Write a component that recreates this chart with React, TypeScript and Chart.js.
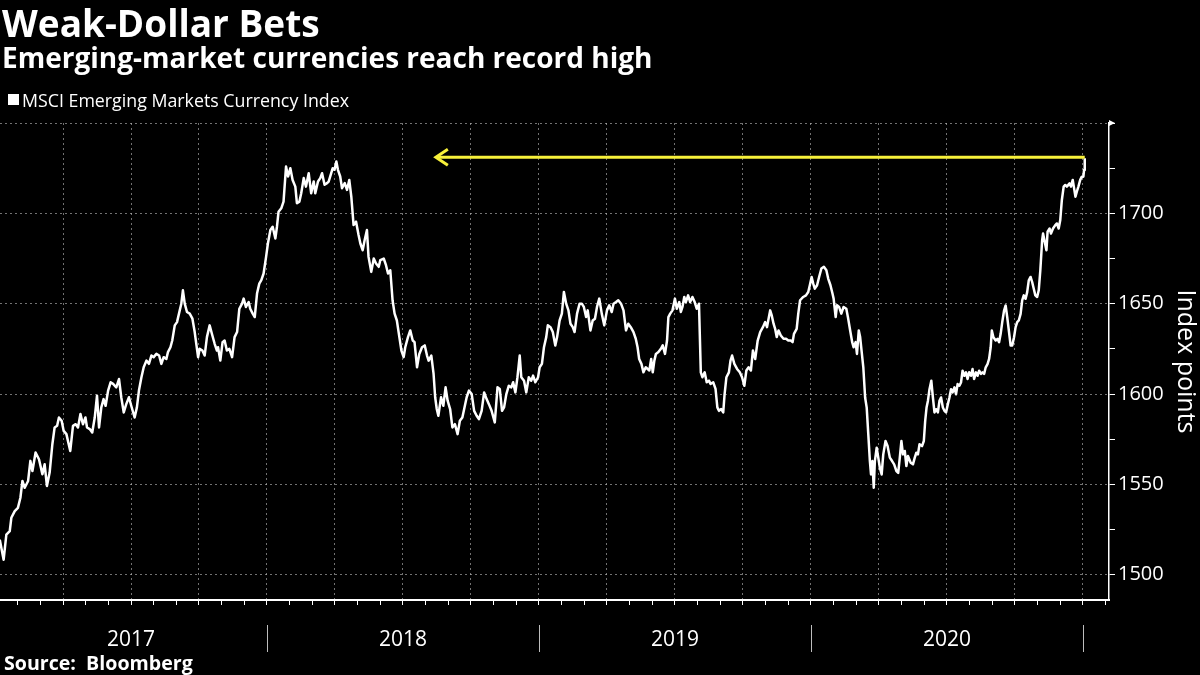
import React, { useEffect, useRef } from 'react';
import { Chart, registerables } from 'chart.js';

Chart.register(...registerables);

// Time axis: months elapsed since 1 Jan 2017 (0 = Jan 2017, 12 = Jan 2018, ...)
const months: number[] = [
  0.21, 0.38, 0.5, 0.65, 0.72, 0.87, 1.01, 1.12, 1.21, 1.31, 1.46, 1.56, 1.65, 1.79, 1.94, 2.09, 2.19, 2.29, 2.41, 2.53,
  2.63, 2.74, 2.82, 2.94, 3.03, 3.15, 3.32, 3.44, 3.56, 3.66, 3.77, 3.88, 3.99, 4.06, 4.18, 4.29, 4.4, 4.5, 4.59, 4.69,
  4.79, 4.88, 4.99, 5.1, 5.21, 5.35, 5.47, 5.57, 5.68, 5.79, 5.91, 6.01, 6.16, 6.26, 6.35, 6.46, 6.56, 6.68, 6.79, 6.9,
  7.0, 7.12, 7.24, 7.34, 7.44, 7.56, 7.63, 7.74, 7.82, 7.93, 8.03, 8.15, 8.22, 8.29, 8.37, 8.47, 8.59, 8.71, 8.81, 8.88,
  8.96, 9.03, 9.15, 9.25, 9.35, 9.47, 9.59, 9.69, 9.79,
  9.84, 9.94, 10.04, 10.13, 10.23, 10.34, 10.46, 10.57, 10.68, 10.78, 10.9, 10.97, 11.07, 11.19, 11.26, 11.37, 11.46,
  11.56, 11.66, 11.75, 11.85, 11.96, 12.04, 12.15, 12.25, 12.37, 12.44, 12.51, 12.63, 12.73, 12.84, 12.93, 13.03, 13.13,
  13.25, 13.32, 13.43, 13.51, 13.62, 13.72, 13.84, 13.95, 14.06, 14.13, 14.25, 14.35, 14.43, 14.54, 14.65, 14.72, 14.79,
  14.9, 14.98, 15.06, 15.13, 15.23, 15.31, 15.43, 15.53, 15.63, 15.72, 15.82, 15.93, 16.04, 16.12, 16.22, 16.31, 16.41,
  16.48, 16.6, 16.71, 16.81, 16.93, 17.0, 17.15, 17.25, 17.34, 17.44, 17.54, 17.63, 17.73, 17.84, 17.93, 18.03, 18.1,
  18.22, 18.32, 18.43, 18.51, 18.62, 18.72, 18.84, 18.96, 19.06, 19.13, 19.25, 19.35,
  19.42, 19.49, 19.56, 19.68, 19.78, 19.88, 19.97, 20.08, 20.18, 20.29, 20.41, 20.51, 20.62, 20.7, 20.81, 20.91, 21.03,
  21.14, 21.25, 21.35, 21.47, 21.58, 21.69, 21.79, 21.91, 22.05, 22.17, 22.27, 22.37, 22.46, 22.56, 22.67, 22.78, 22.86,
  22.96, 23.05, 23.15, 23.22, 23.34, 23.44, 23.55, 23.66, 23.74, 23.84, 23.96, 24.03, 24.13, 24.22, 24.32, 24.39, 24.51,
  24.61, 24.72, 24.8, 24.91, 25.01, 25.1, 25.2, 25.3, 25.39, 25.49, 25.57, 25.68, 25.79, 25.89, 25.98, 26.08, 26.15,
  26.27, 26.37, 26.47, 26.56, 26.66, 26.77, 26.88, 27.0, 27.1, 27.21, 27.29, 27.4, 27.5, 27.62, 27.73, 27.84, 27.94,
  28.05, 28.17, 28.27, 28.35, 28.42, 28.52, 28.61, 28.71,
  28.87, 28.95, 29.02, 29.09, 29.16, 29.27, 29.38, 29.46, 29.56, 29.65, 29.71, 29.79, 29.89, 30.0, 30.08, 30.19, 30.26,
  30.33, 30.41, 30.48, 30.58, 30.67, 30.77, 30.87, 30.96, 31.06, 31.14, 31.21, 31.31, 31.4, 31.5, 31.57, 31.69, 31.79,
  31.87, 31.94, 32.04, 32.13, 32.19, 32.27, 32.38, 32.45, 32.52, 32.62, 32.74, 32.86, 32.96, 33.06, 33.15, 33.25, 33.35,
  33.44, 33.54, 33.65, 33.76, 33.88, 33.98, 34.06, 34.13, 34.2, 34.27, 34.35, 34.42, 34.49, 34.57, 34.67, 34.79, 34.9,
  35.0, 35.11, 35.19, 35.25, 35.37, 35.44, 35.52, 35.66, 35.78, 35.88, 35.95, 36.03, 36.1, 36.17, 36.27, 36.36, 36.46,
  36.57, 36.68, 36.76, 36.86, 36.95, 37.0, 37.09, 37.15, 37.24, 37.34, 37.44, 37.56, 37.63, 37.73, 37.82, 37.88, 37.97,
  38.03, 38.11, 38.17,
  38.31, 38.39, 38.46, 38.53, 38.6, 38.65, 38.71, 38.77, 38.82, 38.9, 38.97, 39.04, 39.12, 39.19, 39.29, 39.38, 39.48,
  39.58, 39.67, 39.77, 39.85, 39.92, 39.99, 40.06, 40.14, 40.21, 40.28, 40.4, 40.5, 40.58, 40.65, 40.72, 40.79, 40.9,
  40.98, 41.04, 41.1, 41.16, 41.23, 41.31, 41.38, 41.45, 41.52, 41.6, 41.67, 41.74, 41.82, 41.89, 41.96, 42.04, 42.11,
  42.18, 42.25, 42.33, 42.4, 42.47, 42.55, 42.62, 42.69, 42.77, 42.84, 42.91, 42.98, 43.06, 43.13, 43.2, 43.28, 43.35,
  43.42, 43.5, 43.57, 43.64, 43.71, 43.79, 43.86, 43.93, 43.98, 44.05, 44.15, 44.23, 44.3, 44.37, 44.44, 44.52, 44.59,
  44.66, 44.74, 44.81, 44.88, 44.96, 45.03, 45.1, 45.17, 45.25, 45.32, 45.39, 45.47, 45.54, 45.61, 45.69, 45.76, 45.83,
  45.9, 45.98, 46.05, 46.12, 46.2, 46.24, 46.3, 46.39, 46.44, 46.53, 46.59, 46.68, 46.78, 46.85, 46.93, 47.0, 47.07,
  47.15, 47.22, 47.29, 47.41, 47.47, 47.55, 47.61, 47.67, 47.73, 47.8, 47.88, 47.95, 48.02, 48.05, 48.08,
];

// MSCI Emerging Markets Currency Index (index points)
const indexValues: number[] = [
  1519.4, 1508.3, 1522.2, 1524.1, 1531.5, 1535.2, 1537.0, 1542.6, 1551.9, 1548.1, 1551.9, 1563.0, 1557.4, 1567.6, 1563.9, 1555.6, 1561.1, 1549.1, 1556.5, 1572.2,
  1581.5, 1582.4, 1587.0, 1585.2, 1579.6, 1577.8, 1568.5, 1582.4, 1583.3, 1581.5, 1588.9, 1583.3, 1587.0, 1581.5, 1580.6, 1578.7, 1587.0, 1599.1, 1581.5, 1592.6,
  1597.2, 1593.5, 1601.9, 1606.5, 1605.6, 1603.7, 1608.3, 1598.2, 1589.8, 1594.4, 1598.2, 1593.5, 1587.0, 1592.6, 1601.9, 1609.3, 1614.8, 1618.5, 1616.7, 1621.3,
  1620.4, 1622.2, 1621.3, 1616.7, 1620.4, 1619.4, 1623.2, 1625.9, 1629.6, 1638.0, 1639.8, 1646.3, 1650.0, 1657.4, 1650.0, 1645.4, 1644.5, 1641.7, 1634.3, 1627.8,
  1620.4, 1625.0, 1624.1, 1621.3, 1631.5, 1638.0, 1632.4, 1627.8, 1624.1,
  1625.9, 1618.5, 1628.7, 1629.6, 1624.1, 1625.0, 1620.4, 1631.5, 1634.3, 1647.2, 1650.0, 1652.8, 1648.2, 1650.9, 1647.2, 1644.5, 1642.6,
  1655.6, 1661.1, 1663.0, 1666.7, 1675.9, 1683.3, 1690.8, 1692.6, 1686.1, 1692.6, 1700.9, 1702.8, 1706.5, 1725.9, 1720.4, 1725.0, 1718.5,
  1714.8, 1705.6, 1706.5, 1711.1, 1719.5, 1714.8, 1722.2, 1711.1, 1717.6, 1711.1, 1717.6, 1719.5, 1722.2, 1715.8, 1716.7, 1717.6, 1720.4,
  1725.0, 1724.1, 1728.7, 1724.1, 1720.4, 1713.9, 1716.7, 1713.0, 1718.5, 1709.3, 1693.5, 1695.4, 1688.0, 1683.3, 1679.6, 1685.2, 1690.8,
  1675.9, 1667.6, 1675.0, 1672.2, 1670.4, 1674.1, 1675.0, 1671.3, 1666.7, 1668.5, 1651.9, 1644.5, 1640.7, 1631.5, 1624.1, 1620.4, 1625.9,
  1631.5, 1635.2, 1629.6, 1628.7, 1614.8, 1622.2, 1625.9, 1626.9, 1621.3, 1618.5, 1621.3, 1611.1,
  1598.2, 1591.7, 1588.0, 1598.2, 1593.5, 1603.7, 1596.3, 1591.7, 1581.5, 1583.3, 1577.8, 1585.2, 1587.0, 1591.7, 1598.2, 1601.9, 1600.0,
  1590.7, 1588.0, 1586.1, 1590.7, 1600.9, 1597.2, 1594.4, 1590.7, 1584.3, 1603.7, 1602.8, 1590.7, 1592.6, 1600.0, 1604.6, 1603.7, 1606.5,
  1600.9, 1609.3, 1621.3, 1609.3, 1607.4, 1600.9, 1609.3, 1607.4, 1610.2, 1606.5, 1609.3, 1614.8, 1616.7, 1625.9, 1631.5, 1638.0, 1637.0,
  1634.3, 1626.9, 1631.5, 1640.7, 1644.5, 1656.5, 1650.0, 1646.3, 1638.9, 1637.0, 1634.3, 1644.5, 1650.0, 1650.0, 1648.2, 1642.6, 1646.3,
  1635.2, 1640.7, 1641.7, 1648.2, 1652.8, 1644.5, 1638.0, 1646.3, 1649.1, 1645.4, 1650.0, 1650.9, 1651.9, 1650.0, 1646.3, 1635.2, 1638.9,
  1637.0, 1634.3, 1630.6, 1625.9, 1619.4, 1616.7, 1612.0, 1614.8,
  1613.0, 1619.4, 1612.0, 1618.5, 1622.2, 1623.2, 1625.0, 1626.9, 1622.2, 1629.6, 1642.6, 1644.5, 1646.3, 1652.8, 1647.2, 1650.9, 1645.4,
  1648.2, 1653.7, 1650.9, 1654.6, 1650.9, 1653.7, 1650.9, 1647.2, 1650.0, 1612.0, 1609.3, 1612.0, 1606.5, 1607.4, 1605.6, 1606.5, 1602.8,
  1592.6, 1590.7, 1591.7, 1589.8, 1600.0, 1609.3, 1612.0, 1618.5, 1621.3, 1616.7, 1613.9, 1612.0, 1609.3, 1604.6, 1613.0, 1614.8, 1613.0,
  1624.1, 1619.4, 1629.6, 1634.3, 1637.0, 1639.8, 1637.0, 1641.7, 1646.3, 1643.5, 1638.9, 1636.1, 1631.5, 1635.2, 1632.4, 1630.6, 1630.6,
  1629.6, 1629.6, 1628.7, 1633.3, 1636.1, 1644.5, 1651.9, 1653.7, 1654.6, 1656.5, 1660.2, 1664.8, 1661.1, 1658.3, 1660.2, 1664.8, 1669.5,
  1670.4, 1668.5, 1663.9, 1660.2, 1655.6, 1652.8, 1642.6, 1649.1, 1648.2, 1644.5, 1648.2, 1647.2, 1642.6, 1635.2, 1628.7, 1625.9, 1628.7,
  1622.2, 1635.2, 1631.5,
  1614.8, 1598.1, 1592.5, 1577.7, 1562.9, 1555.5, 1562.9, 1548.1, 1562.9, 1570.3, 1564.8, 1559.2, 1555.5, 1566.6, 1574.0, 1571.2, 1564.8,
  1562.9, 1561.1, 1557.4, 1556.4, 1564.8, 1574.0, 1566.6, 1568.5, 1560.1, 1565.7, 1562.0, 1561.1, 1564.8, 1567.5, 1566.6, 1572.2, 1571.2,
  1574.0, 1585.1, 1592.5, 1596.2, 1602.7, 1607.4, 1598.1, 1589.8, 1591.6, 1589.8, 1596.2, 1598.1, 1592.5, 1590.7, 1589.8, 1594.4, 1598.1,
  1602.7, 1600.9, 1603.7, 1599.9, 1605.5, 1604.6, 1606.4, 1612.9, 1610.1, 1612.0, 1608.3, 1612.0, 1610.1, 1613.8, 1608.3, 1612.0, 1610.1,
  1612.9, 1611.1, 1612.0, 1611.1, 1614.8, 1616.6, 1619.4, 1625.9, 1635.1, 1631.4, 1629.6, 1630.5, 1628.7, 1633.3, 1639.8, 1646.2, 1649.0,
  1642.5, 1634.2, 1626.8, 1626.8, 1631.4, 1637.0, 1639.8, 1640.7, 1644.4, 1651.8, 1654.6, 1652.7, 1656.4, 1662.9, 1664.8, 1662.0, 1658.3,
  1654.6, 1653.7, 1657.4, 1668.5, 1685.1, 1688.8, 1685.1, 1679.6, 1689.8, 1691.6, 1688.8, 1691.6, 1693.5, 1694.4, 1691.6, 1696.3, 1707.4,
  1714.8, 1715.7, 1714.8, 1716.6, 1714.8, 1718.5, 1713.8, 1709.2, 1712.0, 1714.8, 1718.5, 1720.3, 1720.3, 1724.0, 1730.5,
];

// Axis definitions
const xRange: number[] = [0.22, 49.15];
const monthTicks: number[] = Array.from({ length: 49 }, (_, i) => i + 1);
const yRange: number[] = [1486, 1750];
const yTickValues: number[] = [1500, 1525, 1550, 1575, 1600, 1625, 1650, 1675, 1700, 1725, 1750];
const yLabelValues: number[] = [1500, 1550, 1600, 1650, 1700];
const yearLabels: string[] = ['2017', '2018', '2019', '2020'];
const yearCenters: number[] = [6, 18, 30, 42];
const yearBoundaries: number[] = [12, 24, 36, 48];

// Annotation: record-high arrow
const recordLevel = 1731;
const arrowTipMonth = 19.45;

const TITLE = 'Weak-Dollar Bets';
const SUBTITLE = 'Emerging-market currencies reach record high';
const SERIES_NAME = 'MSCI Emerging Markets Currency Index';
const SOURCE = 'Source:  Bloomberg';
const AXIS_TITLE = 'Index points';

const FONT = "'Open Sans', 'DejaVu Sans', sans-serif";
const GRID = 'rgba(190,190,190,0.6)';
const YELLOW = '#f7f03a';

const overlayPlugin = {
  id: 'overlay',
  beforeDraw(chart: any) {
    const { ctx, width, height } = chart;
    ctx.save();
    ctx.fillStyle = '#000';
    ctx.fillRect(0, 0, width, height);
    ctx.restore();
  },
  afterDatasetsDraw(chart: any) {
    const { ctx } = chart;
    const xs = chart.scales.x;
    const ys = chart.scales.y;
    const x1 = xs.getPixelForValue(months[months.length - 1]);
    const x2 = xs.getPixelForValue(arrowTipMonth);
    const y = ys.getPixelForValue(recordLevel);
    ctx.save();
    ctx.strokeStyle = YELLOW;
    ctx.lineWidth = 3;
    ctx.lineCap = 'butt';
    ctx.beginPath();
    ctx.moveTo(x1, y);
    ctx.lineTo(x2 + 1, y);
    ctx.stroke();
    ctx.lineJoin = 'miter';
    ctx.beginPath();
    ctx.moveTo(x2 + 12, y - 8);
    ctx.lineTo(x2, y);
    ctx.lineTo(x2 + 12, y + 8);
    ctx.stroke();
    ctx.restore();
  },
  afterDraw(chart: any) {
    const { ctx } = chart;
    const xs = chart.scales.x;
    const ys = chart.scales.y;
    ctx.save();
    ctx.fillStyle = '#fff';
    ctx.textAlign = 'left';
    ctx.textBaseline = 'alphabetic';
    ctx.font = `bold 37px ${FONT}`;
    ctx.fillText(TITLE, 2, 37);
    ctx.font = `bold 28px ${FONT}`;
    ctx.fillText(SUBTITLE, 2, 68);
    // legend
    ctx.fillRect(8, 94, 11, 11);
    ctx.font = `17.8px ${FONT}`;
    ctx.fillText(SERIES_NAME, 22, 107);
    // source
    ctx.font = `bold 19.6px ${FONT}`;
    ctx.fillText(SOURCE, 4, 670);
    // small marker at the top of the value axis
    const topY = ys.getPixelForValue(yRange[1]);
    const axisX = ys.left;
    ctx.beginPath();
    ctx.moveTo(axisX, topY - 3);
    ctx.lineTo(axisX + 6, topY);
    ctx.lineTo(axisX, topY + 3);
    ctx.closePath();
    ctx.fill();
    // year labels and separators
    ctx.font = `21px ${FONT}`;
    ctx.textAlign = 'center';
    yearLabels.forEach((label, i) => {
      ctx.fillText(label, xs.getPixelForValue(yearCenters[i]), 646);
    });
    ctx.strokeStyle = '#bdbdbd';
    ctx.lineWidth = 1;
    yearBoundaries.forEach((m) => {
      const x = Math.round(xs.getPixelForValue(m)) + 0.5;
      ctx.beginPath();
      ctx.moveTo(x, 625);
      ctx.lineTo(x, 652);
      ctx.stroke();
    });
    ctx.restore();
  },
};

export default function App() {
  const canvasRef = useRef<HTMLCanvasElement | null>(null);

  useEffect(() => {
    const canvas = canvasRef.current;
    if (!canvas) return;
    const points = months.map((m, i) => ({ x: m, y: indexValues[i] }));
    const chart = new Chart(canvas, {
      type: 'line',
      data: {
        datasets: [
          {
            label: SERIES_NAME,
            data: points,
            borderColor: '#ffffff',
            borderWidth: 2.5,
            pointRadius: 0,
            tension: 0,
            borderJoinStyle: 'round',
            fill: false,
          },
        ],
      },
      options: {
        animation: false,
        responsive: false,
        maintainAspectRatio: false,
        parsing: false as any,
        normalized: true,
        layout: { padding: { top: 123, left: 0, right: 0, bottom: 0 } },
        plugins: {
          legend: { display: false },
          title: { display: false },
          tooltip: { enabled: false },
        },
        scales: {
          x: {
            type: 'linear',
            position: 'bottom',
            min: xRange[0],
            max: xRange[1],
            afterBuildTicks: (axis: any) => {
              axis.ticks = monthTicks.map((v) => ({ value: v }));
            },
            afterFit: (axis: any) => {
              axis.height = 75;
            },
            ticks: { display: false, autoSkip: false },
            grid: {
              display: true,
              drawOnChartArea: true,
              drawTicks: true,
              tickLength: 5,
              tickColor: '#ffffff',
              tickWidth: 1,
              lineWidth: 1,
              color: (ctx: any) => (ctx.tick && ctx.tick.value % 3 === 0 ? GRID : 'rgba(0,0,0,0)'),
            },
            border: { display: true, color: '#ffffff', width: 2, dash: [2, 3] },
          },
          y: {
            type: 'linear',
            position: 'right',
            min: yRange[0],
            max: yRange[1],
            afterBuildTicks: (axis: any) => {
              axis.ticks = yTickValues.map((v) => ({ value: v }));
            },
            afterFit: (axis: any) => {
              axis.width = 91;
            },
            ticks: {
              autoSkip: false,
              color: '#ffffff',
              padding: 3,
              font: { family: FONT, size: 20 },
              callback: (value: any) => (yLabelValues.includes(Number(value)) ? String(value) : ''),
            },
            grid: {
              display: true,
              drawOnChartArea: true,
              drawTicks: true,
              tickLength: 6,
              tickColor: '#ffffff',
              tickWidth: 1,
              lineWidth: 1,
              color: (ctx: any) => (ctx.tick && ctx.tick.value % 50 === 0 ? GRID : 'rgba(0,0,0,0)'),
            },
            border: { display: true, color: '#ffffff', width: 1.5, dash: [2, 3] },
            title: {
              display: true,
              text: AXIS_TITLE,
              color: '#ffffff',
              font: { family: FONT, size: 25 },
              padding: { top: 0, bottom: 0 },
            },
          },
        },
      },
      plugins: [overlayPlugin],
    });
    return () => {
      chart.destroy();
    };
  }, []);

  return (
    <div style={{ position: 'absolute', left: 0, top: 0, width: 1200, height: 675, background: '#000' }}>
      <canvas ref={canvasRef} width={1200} height={675} style={{ display: 'block' }} />
    </div>
  );
}
